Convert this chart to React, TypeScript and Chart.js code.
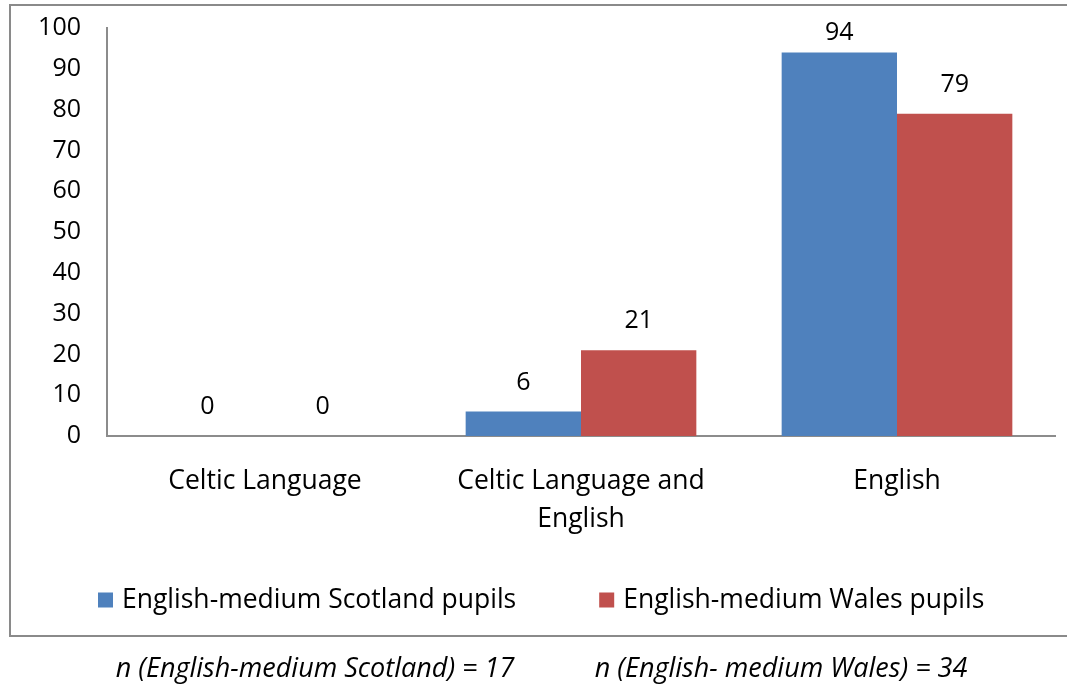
import React, { useEffect, useRef } from "react";
import { Chart, registerables } from "chart.js";

Chart.register(...registerables);

const categories: string[][] = [["Celtic Language"], ["Celtic Language and", "English"], ["English"]];
const seriesNames = ["English-medium Scotland pupils", "English-medium Wales pupils"];
const scotlandValues = [0, 6, 94];
const walesValues = [0, 21, 79];
const seriesColors = ["#4F81BD", "#C0504D"];
const yTickValues = [0, 10, 20, 30, 40, 50, 60, 70, 80, 90, 100];
const captions = ["n (English-medium Scotland) = 17", "n (English- medium Wales) = 34"];

const FAMILY = "'Open Sans', sans-serif";
const NUM_SIZE = 25;
const TEXT_SIZE = 26.5;

const dataLabelPlugin = {
  id: "dataLabels",
  afterDatasetsDraw(chart: any) {
    const ctx = chart.ctx;
    ctx.save();
    ctx.font = `${NUM_SIZE}px ${FAMILY}`;
    ctx.fillStyle = "#000";
    ctx.textAlign = "center";
    ctx.textBaseline = "middle";
    chart.data.datasets.forEach((ds: any, i: number) => {
      const meta = chart.getDatasetMeta(i);
      meta.data.forEach((el: any, j: number) => {
        const y = Math.max(el.y - 29, chart.chartArea.top + 5);
        ctx.fillText(String(ds.data[j]), el.x, y);
      });
    });
    ctx.restore();
  },
};

const legendPlugin = {
  id: "customLegend",
  afterDraw(chart: any) {
    const ctx = chart.ctx;
    ctx.save();
    ctx.font = `${TEXT_SIZE}px ${FAMILY}`;
    ctx.textBaseline = "middle";
    ctx.textAlign = "left";
    const box = 15;
    const gap = 9;
    const itemGap = 83;
    const yCenter = 600;
    let x = chart.chartArea.left - 9;
    chart.data.datasets.forEach((ds: any) => {
      ctx.fillStyle = ds.backgroundColor;
      ctx.fillRect(x, yCenter - box / 2, box, box);
      ctx.fillStyle = "#000";
      ctx.fillText(ds.label, x + box + gap, yCenter);
      x += box + gap + ctx.measureText(ds.label).width + itemGap;
    });
    ctx.restore();
  },
};

export default function App() {
  const canvasRef = useRef<HTMLCanvasElement | null>(null);

  useEffect(() => {
    if (!canvasRef.current) return;
    const chart = new Chart(canvasRef.current, {
      type: "bar",
      data: {
        labels: categories as any,
        datasets: [
          { label: seriesNames[0], data: scotlandValues, backgroundColor: seriesColors[0] },
          { label: seriesNames[1], data: walesValues, backgroundColor: seriesColors[1] },
        ],
      },
      options: {
        animation: false,
        responsive: false,
        maintainAspectRatio: false,
        layout: { padding: { left: 12, right: 12, top: 28, bottom: 0 } },
        datasets: { bar: { categoryPercentage: 0.73, barPercentage: 1 } },
        plugins: {
          legend: { display: false },
          tooltip: { enabled: false },
          title: { display: false },
        },
        scales: {
          x: {
            grid: { display: false, drawTicks: false },
            border: { display: true, color: "#8c8c8c", width: 2 },
            ticks: {
              color: "#000",
              font: { family: FAMILY, size: TEXT_SIZE, lineHeight: 38 / TEXT_SIZE },
              padding: 26,
              maxRotation: 0,
              autoSkip: false,
            },
            afterFit(scale: any) {
              scale.height = 250;
            },
          },
          y: {
            min: 0,
            max: 100,
            afterBuildTicks(scale: any) {
              scale.ticks = yTickValues.map((v) => ({ value: v }));
            },
            grid: { display: false, drawTicks: false },
            border: { display: true, color: "#8c8c8c", width: 2 },
            ticks: {
              color: "#000",
              font: { family: FAMILY, size: NUM_SIZE },
              padding: 26,
            },
            afterFit(scale: any) {
              scale.width = 95;
              scale.paddingTop = 12;
              scale.paddingBottom = 12;
            },
          },
        },
      },
      plugins: [dataLabelPlugin, legendPlugin],
    });
    return () => chart.destroy();
  }, []);

  const captionStyle: React.CSSProperties = {
    position: "absolute",
    top: 652,
    width: 500,
    textAlign: "center",
    fontFamily: FAMILY,
    fontStyle: "italic",
    fontSize: 27,
    lineHeight: "30px",
    color: "#000",
    whiteSpace: "nowrap",
  };

  return (
    <div
      style={{
        position: "fixed",
        left: 0,
        top: 0,
        width: 1067,
        height: 686,
        background: "#fff",
        overflow: "hidden",
      }}
    >
      <div
        style={{
          position: "absolute",
          left: 9,
          top: 4,
          width: 1070,
          height: 629,
          border: "2px solid #8a8a8a",
        }}
      />
      <canvas
        ref={canvasRef}
        width={1067}
        height={686}
        style={{ position: "absolute", left: 0, top: 0, width: 1067, height: 686 }}
      />
      <div style={{ ...captionStyle, left: 315 - 250 }}>{captions[0]}</div>
      <div style={{ ...captionStyle, left: 781 - 250 }}>{captions[1]}</div>
    </div>
  );
}
